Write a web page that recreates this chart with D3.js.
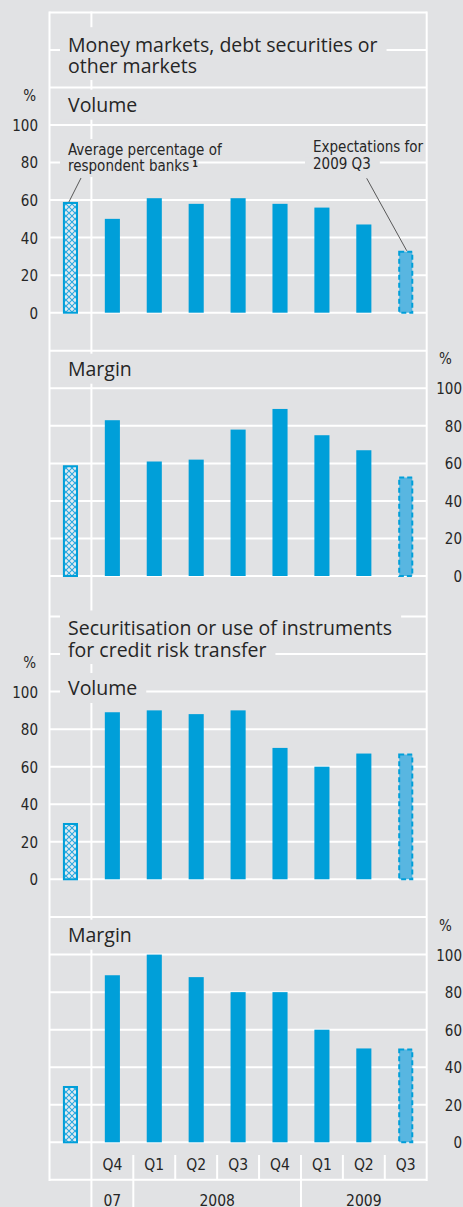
<!DOCTYPE html>
<html>
<head>
<meta charset="utf-8">
<script src="https://cdn.jsdelivr.net/npm/d3@7"></script>
<style>
  body { margin: 0; background: #e1e2e4; }
  svg { display: block; }
</style>
</head>
<body>
<div id="chart"></div>
<script>
// categories and tick labels
var quarterLabels = ["Q4", "Q1", "Q2", "Q3", "Q4", "Q1", "Q2", "Q3"];
var yearLabels = ["07", "2008", "2009"];
var yearSpans = [1, 4, 3];
var tickValues = [0, 20, 40, 60, 80, 100];

// money markets, debt securities or other markets (last value = expectation)
var mmVolumeAvg = 59;
var mmVolume = [50, 61, 58, 61, 58, 56, 47, 33];
var mmMarginAvg = 59;
var mmMargin = [83, 61, 62, 78, 89, 75, 67, 53];

// securitisation or use of instruments for credit risk transfer
var secVolumeAvg = 30;
var secVolume = [89, 90, 88, 90, 70, 60, 67, 67];
var secMarginAvg = 30;
var secMargin = [89, 100, 88, 80, 80, 60, 50, 50];

var bg = "#e1e2e4", blue = "#009fd9", lightBlue = "#58b6e1", ink = "#262626";
var titleFont = "'Open Sans', 'Noto Sans', sans-serif";
var narrowFont = "'Liberation Sans Narrow', 'DejaVu Sans Condensed', sans-serif";

var W = 463, H = 1207;
var frameLeft = 49.5, frameRight = 426.7, frameTop = 12.5, frameBottom = 1180;
var panelH = 187.7;

var panels = [
    { avg: mmVolumeAvg, values: mmVolume, zero: 312.7, side: "left", label: "Volume", labelY: 111.7, extra: [120, 140, 160] },
    { avg: mmMarginAvg, values: mmMargin, zero: 576, side: "right", label: "Margin", labelY: 375.7, extra: [120] },
    { avg: secVolumeAvg, values: secVolume, zero: 879.3, side: "left", label: "Volume", labelY: 695, extra: [120, 140] },
    { avg: secMarginAvg, values: secMargin, zero: 1142.3, side: "right", label: "Margin", labelY: 941.7, extra: [120, -20] }
];

var svg = d3.select("#chart").append("svg")
    .attr("width", W)
    .attr("height", H)
    .style("background", bg);

var defs = svg.append("defs");
var pat = defs.append("pattern")
    .attr("id", "hatch")
    .attr("patternUnits", "userSpaceOnUse")
    .attr("width", 6).attr("height", 6);
pat.append("rect").attr("width", 6).attr("height", 6).attr("fill", "#e4ecf1");
pat.append("path").attr("d", "M0,0L6,6M6,0L0,6")
    .attr("stroke", "#2aa8e0").attr("stroke-width", 1.1);

var keys = ["avg"].concat(d3.range(quarterLabels.length));
var x = d3.scaleBand()
    .domain(keys)
    .range([frameLeft, frameRight])
    .paddingInner(0.64)
    .paddingOuter(0.32);
var step = x.step();

var grid = svg.append("g");
var boxes = svg.append("g");
var marks = svg.append("g");

// frame lines
grid.append("line").attr("x1", frameLeft).attr("x2", frameLeft).attr("y1", frameTop - 1).attr("y2", frameBottom + 1);
grid.append("line").attr("x1", frameRight).attr("x2", frameRight).attr("y1", frameTop - 1).attr("y2", frameBottom + 1);
grid.append("line").attr("x1", frameLeft + step).attr("x2", frameLeft + step).attr("y1", frameTop - 1).attr("y2", H);

panels.forEach(function (p) {
    p.y = d3.scaleLinear().domain([0, 100]).range([p.zero, p.zero - panelH]);

    grid.selectAll(null)
        .data(tickValues.concat(p.extra))
        .enter().append("line")
        .attr("x1", frameLeft).attr("x2", frameRight)
        .attr("y1", function (d) { return p.y(d); })
        .attr("y2", function (d) { return p.y(d); });

    // axis
    var ax = p.side == "left" ? d3.axisLeft(p.y) : d3.axisRight(p.y);
    ax.tickValues(tickValues).tickSize(0).tickPadding(0);
    var g = svg.append("g")
        .attr("transform", "translate(" + (p.side == "left" ? 38 : 462) + ",0)")
        .call(ax);
    g.select(".domain").remove();
    g.selectAll("text")
        .attr("text-anchor", "end")
        .attr("dy", "0.36em")
        .attr("x", 0)
        .style("font-family", narrowFont)
        .style("font-size", "15px")
        .attr("fill", ink);
    svg.append("text")
        .attr("x", p.side == "left" ? 36 : 439)
        .attr("y", p.y(100) - 24)
        .attr("text-anchor", p.side == "left" ? "end" : "start")
        .style("font-family", narrowFont)
        .style("font-size", "15px")
        .attr("fill", ink)
        .text("%");

    // average bar (hatched)
    marks.append("rect")
        .attr("x", x("avg") + 1)
        .attr("y", p.y(p.avg) + 1)
        .attr("width", x.bandwidth() - 2)
        .attr("height", p.y(0) - p.y(p.avg) - 1)
        .attr("fill", "url(#hatch)")
        .attr("stroke", blue)
        .attr("stroke-width", 2);

    // quarterly bars
    var n = p.values.length;
    marks.selectAll(null)
        .data(p.values.slice(0, n - 1))
        .enter().append("rect")
        .attr("x", function (d, i) { return x(i); })
        .attr("y", function (d) { return p.y(d); })
        .attr("width", x.bandwidth())
        .attr("height", function (d) { return p.y(0) - p.y(d); })
        .attr("fill", blue);

    // expectation bar (dashed)
    marks.append("rect")
        .attr("x", x(n - 1) + 1)
        .attr("y", p.y(p.values[n - 1]) + 1)
        .attr("width", x.bandwidth() - 2)
        .attr("height", p.y(0) - p.y(p.values[n - 1]) - 1)
        .attr("fill", lightBlue)
        .attr("stroke", blue)
        .attr("stroke-width", 2)
        .attr("stroke-dasharray", "5,3");

    labelBlock([p.label], 68, [p.labelY], 19.5, titleFont, 22, 8);
});

grid.selectAll("line")
    .attr("stroke", "#fff")
    .attr("stroke-width", 2);

// text with a background box hiding the grid behind it
function labelBlock(lines, tx, baselines, size, font, above, below, maxRight) {
    var texts = [];
    lines.forEach(function (l, i) {
        var t = boxes.append("text")
            .attr("x", tx)
            .attr("y", baselines[i])
            .style("font-family", font)
            .style("font-size", size + "px")
            .attr("fill", ink)
            .text(l);
        texts.push(t);
    });
    texts.forEach(function (t, i) {
        var w = t.node().getComputedTextLength();
        var y0 = i == 0 ? baselines[i] - above : baselines[i - 1] + below;
        var y1 = baselines[i] + below;
        var x0 = tx - 8, x1 = tx + w + 9;
        if (maxRight) x1 = Math.min(x1, maxRight);
        boxes.insert("rect", "text")
            .attr("x", x0).attr("y", y0)
            .attr("width", x1 - x0).attr("height", y1 - y0)
            .attr("fill", bg);
    });
    return texts;
}

labelBlock(["Money markets, debt securities or", "other markets"], 68, [52.2, 73], 19.5, titleFont, 25, 7);
labelBlock(["Securitisation or use of instruments", "for credit risk transfer"], 68, [634.5, 657], 19.5, titleFont, 24, 7);

// annotations
var p0 = panels[0];
var avgNote = labelBlock(["Average percentage of", "respondent banks"], 68, [155, 171], 15, narrowFont, 16, 6);
avgNote[1].append("tspan").attr("dy", -4).attr("dx", 3)
    .style("font-size", "9px").style("font-weight", "bold").text("1");
var expNote = labelBlock(["Expectations for", "2009 Q3"], 313, [151.7, 169], 15, narrowFont, 16, 6, frameRight - 2);

marks.append("line")
    .attr("x1", 81).attr("y1", 178)
    .attr("x2", x("avg") + 6).attr("y2", p0.y(p0.avg))
    .attr("stroke", "#333").attr("stroke-width", 0.8);
var last = p0.values.length - 1;
marks.append("line")
    .attr("x1", 366.7).attr("y1", 178.3)
    .attr("x2", x(last) + x.bandwidth() / 2 + 1).attr("y2", p0.y(p0.values[last]))
    .attr("stroke", "#333").attr("stroke-width", 0.8);

// bottom axis: quarters and years
var xa = svg.append("g");
xa.selectAll(null)
    .data(quarterLabels)
    .enter().append("text")
    .attr("x", function (d, i) { return x(i) + x.bandwidth() / 2; })
    .attr("y", 1170)
    .attr("text-anchor", "middle")
    .style("font-family", narrowFont)
    .style("font-size", "15.5px")
    .attr("fill", ink)
    .text(function (d) { return d; });

// separators between quarters; year boundaries run further down
var yearStarts = [];
yearSpans.reduce(function (acc, s) { yearStarts.push(acc); return acc + s; }, 0);
d3.range(1, quarterLabels.length).forEach(function (i) {
    var isYear = yearStarts.indexOf(i) >= 0;
    xa.append("line")
        .attr("x1", frameLeft + step * (i + 1)).attr("x2", frameLeft + step * (i + 1))
        .attr("y1", 1155).attr("y2", isYear ? H : frameBottom)
        .attr("stroke", "#fff").attr("stroke-width", 2);
});

xa.selectAll(null)
    .data(yearLabels)
    .enter().append("text")
    .attr("x", function (d, i) {
        return frameLeft + step * (1 + yearStarts[i] + yearSpans[i] / 2);
    })
    .attr("y", 1206)
    .attr("text-anchor", "middle")
    .style("font-family", narrowFont)
    .style("font-size", "15.5px")
    .attr("fill", ink)
    .text(function (d) { return d; });
</script>
</body>
</html>
